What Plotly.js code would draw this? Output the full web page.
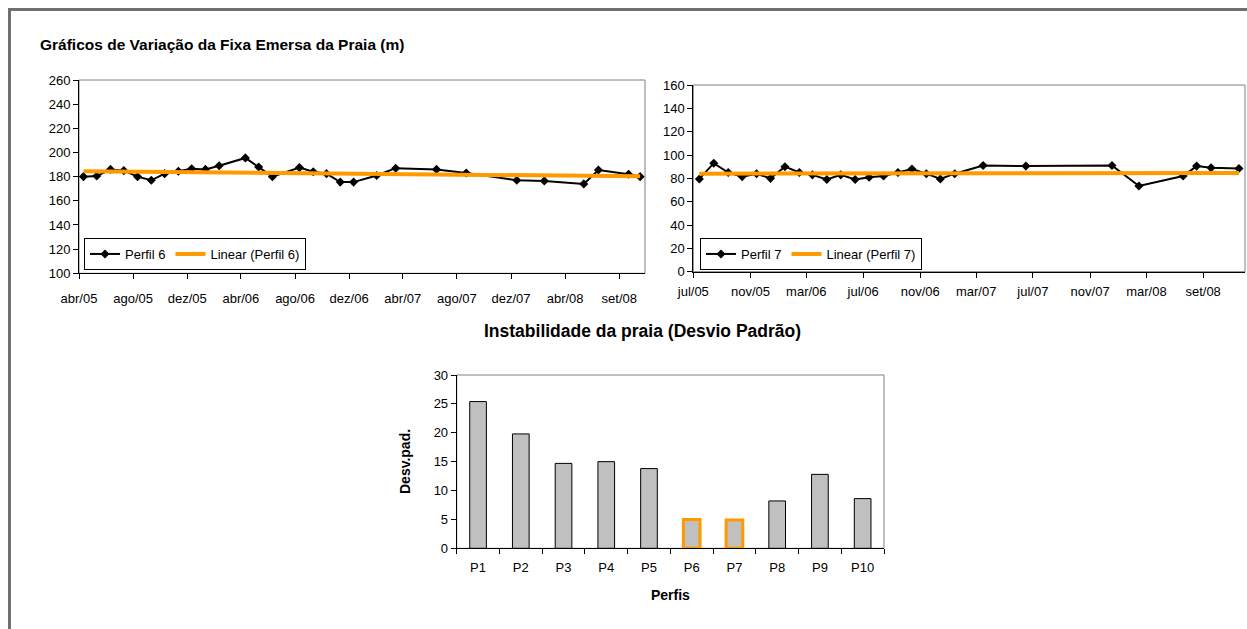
<!DOCTYPE html>
<html>
<head>
<meta charset="utf-8">
<script src="https://cdn.plot.ly/plotly-3.0.1.min.js"></script>
<style>
html,body{margin:0;padding:0;background:#fff;overflow:hidden;}
#chart{position:absolute;left:0;top:0;width:1247px;height:629px;}
#frame{position:absolute;left:8px;top:8px;width:1239px;height:621px;border-top:3px solid #707070;border-left:3px solid #707070;pointer-events:none;}
</style>
</head>
<body>
<div id="chart"></div>
<div id="frame"></div>
<script>
// ---- Perfil 6 ----
const datesP6 = ['2005-04-25','2005-05-25','2005-06-25','2005-07-25','2005-08-25','2005-09-25','2005-10-25','2005-11-25','2005-12-25','2006-01-25','2006-02-25','2006-04-25','2006-05-25','2006-06-25','2006-08-25','2006-09-25','2006-10-25','2006-11-25','2006-12-25','2007-02-15','2007-03-30','2007-06-30','2007-09-05','2007-12-28','2008-02-28','2008-05-27','2008-06-29','2008-09-05','2008-10-01'];
const valuesP6 = [180,180.5,186,185,180,177,182.5,184.5,186.5,186,189,195.5,188,180,187.5,184,182.5,175.5,175.5,181,187,186,183,177,176.5,174,185.5,182,180];
const trendP6Dates = ['2005-04-25','2008-10-01'];
const trendP6Values = [184.4, 180.3];
const ticksP6 = ['2005-04-15','2005-08-15','2005-12-15','2006-04-15','2006-08-15','2006-12-15','2007-04-15','2007-08-15','2007-12-15','2008-04-15','2008-08-15'];
const tickLabelsP6 = ['abr/05','ago/05','dez/05','abr/06','ago/06','dez/06','abr/07','ago/07','dez/07','abr/08','set/08'];

// ---- Perfil 7 ----
const datesP7 = ['2005-07-28','2005-08-28','2005-09-28','2005-10-28','2005-11-28','2005-12-28','2006-01-28','2006-02-28','2006-03-28','2006-04-28','2006-05-28','2006-06-28','2006-07-28','2006-08-28','2006-09-28','2006-10-28','2006-11-28','2006-12-28','2007-01-28','2007-03-30','2007-06-30','2008-01-01','2008-02-28','2008-06-02','2008-07-01','2008-08-01','2008-09-30'];
const valuesP7 = [79.5,93,85,81.5,84,80,90,85,83,79,83,79,81,82,85,88,84,79.5,84,91,90.5,91,73.5,82,90.5,89,88.5];
const trendP7Dates = ['2005-07-28','2008-09-30'];
const trendP7Values = [84, 84.6];
const ticksP7 = ['2005-07-15','2005-11-15','2006-03-15','2006-07-15','2006-11-15','2007-03-15','2007-07-15','2007-11-15','2008-03-15','2008-07-15'];
const tickLabelsP7 = ['jul/05','nov/05','mar/06','jul/06','nov/06','mar/07','jul/07','nov/07','mar/08','set/08'];

// ---- Desvio padrão ----
const perfis = ['P1','P2','P3','P4','P5','P6','P7','P8','P9','P10'];
const desvPad = [25.4, 19.8, 14.7, 15.0, 13.8, 5.0, 4.9, 8.2, 12.8, 8.6];

const W = 1247, H = 629;
const px = v => v / W;
const py = v => 1 - v / H;

const FONT = 'Liberation Sans, Arial, sans-serif';
const ORANGE = '#ff9900';

const highlight = perfis.map(p => p === 'P6' || p === 'P7');

const traces = [
  {x: datesP6, y: valuesP6, type: 'scatter', mode: 'lines+markers', name: 'Perfil 6',
   xaxis: 'x', yaxis: 'y', legend: 'legend',
   line: {color: '#000', width: 2}, marker: {symbol: 'diamond', size: 7, color: '#000'}},
  {x: trendP6Dates, y: trendP6Values, type: 'scatter', mode: 'lines', name: 'Linear (Perfil 6)',
   xaxis: 'x', yaxis: 'y', legend: 'legend',
   line: {color: ORANGE, width: 4}},
  {x: datesP7, y: valuesP7, type: 'scatter', mode: 'lines+markers', name: 'Perfil 7',
   xaxis: 'x2', yaxis: 'y2', legend: 'legend2',
   line: {color: '#000', width: 2}, marker: {symbol: 'diamond', size: 7, color: '#000'}},
  {x: trendP7Dates, y: trendP7Values, type: 'scatter', mode: 'lines', name: 'Linear (Perfil 7)',
   xaxis: 'x2', yaxis: 'y2', legend: 'legend2',
   line: {color: ORANGE, width: 4}},
  {x: perfis, y: desvPad, type: 'bar', xaxis: 'x3', yaxis: 'y3', showlegend: false,
   marker: {color: '#c0c0c0',
            line: {color: highlight.map(h => h ? ORANGE : '#000'),
                   width: highlight.map(h => h ? 3 : 1)}}}
];

const tickFont = {family: FONT, size: 13, color: '#000'};
const axisBase = {showgrid: false, zeroline: false, showline: true, linecolor: '#000', linewidth: 1,
                  ticks: 'outside', ticklen: 5, tickcolor: '#000', tickfont: tickFont, fixedrange: true};

const legendBase = {xanchor: 'left', yanchor: 'top', orientation: 'h',
           bgcolor: '#fff', bordercolor: '#000', borderwidth: 1,
           font: {family: FONT, size: 13, color: '#000'}, tracegroupgap: 0, itemwidth: 30};

const layout = {
  width: W, height: H,
  margin: {l: 0, r: 0, t: 0, b: 0},
  paper_bgcolor: '#fff', plot_bgcolor: '#fff',
  font: {family: FONT, color: '#000'},
  title: {text: 'Gráficos de Variação da Fixa Emersa da Praia (m)',
          x: px(40), xanchor: 'left', xref: 'paper', y: py(45), yanchor: 'middle', yref: 'paper',
          font: {family: FONT, size: 15.5, weight: 'bold', color: '#000'}},
  xaxis: Object.assign({}, axisBase, {domain: [px(79), px(645)], anchor: 'y', type: 'date',
          range: ['2005-04-15', '2008-10-12'], tickmode: 'array', tickvals: ticksP6, ticktext: tickLabelsP6,
          ticklabelstandoff: 8}),
  yaxis: Object.assign({}, axisBase, {domain: [py(273.3), py(80)], anchor: 'x',
          range: [100, 260], dtick: 20}),
  xaxis2: Object.assign({}, axisBase, {domain: [px(693.3), px(1245)], anchor: 'y2', type: 'date',
          range: ['2005-07-15', '2008-10-13'], tickmode: 'array', tickvals: ticksP7, ticktext: tickLabelsP7,
          ticklabelstandoff: 3}),
  yaxis2: Object.assign({}, axisBase, {domain: [py(271.7), py(85)], anchor: 'x2',
          range: [0, 160], dtick: 20}),
  xaxis3: Object.assign({}, axisBase, {domain: [px(456.7), px(884)], anchor: 'y3', type: 'category',
          tickson: 'boundaries', ticklabelstandoff: 7}),
  yaxis3: Object.assign({}, axisBase, {domain: [py(548.3), py(375)], anchor: 'x3',
          range: [0, 30], dtick: 5}),
  bargap: 0.61,
  showlegend: true,
  legend: Object.assign({x: px(84), y: py(238)}, legendBase),
  legend2: Object.assign({x: px(700), y: py(238)}, legendBase),
  shapes: [
    {type: 'rect', xref: 'x domain', yref: 'y domain', x0: 0, x1: 1, y0: 0, y1: 1, line: {color: '#808080', width: 1}, layer: 'below'},
    {type: 'rect', xref: 'x2 domain', yref: 'y2 domain', x0: 0, x1: 1, y0: 0, y1: 1, line: {color: '#808080', width: 1}, layer: 'below'},
    {type: 'rect', xref: 'x3 domain', yref: 'y3 domain', x0: 0, x1: 1, y0: 0, y1: 1, line: {color: '#808080', width: 1}, layer: 'below'}
  ],
  annotations: [
    {text: 'Instabilidade da praia (Desvio Padrão)', xref: 'paper', yref: 'paper',
     x: px(643), y: py(331.5), xanchor: 'center', yanchor: 'middle', showarrow: false,
     font: {family: FONT, size: 17.5, weight: 'bold', color: '#000'}},
    {text: 'Desv.pad.', xref: 'paper', yref: 'paper', x: px(405), y: py(462), textangle: -90,
     xanchor: 'center', yanchor: 'middle', showarrow: false,
     font: {family: FONT, size: 14, weight: 'bold', color: '#000'}},
    {text: 'Perfis', xref: 'paper', yref: 'paper', x: px(670), y: py(595),
     xanchor: 'center', yanchor: 'middle', showarrow: false,
     font: {family: FONT, size: 14, weight: 'bold', color: '#000'}}
  ]
};

Plotly.newPlot('chart', traces, layout, {staticPlot: true, displayModeBar: false});
</script>
</body>
</html>
